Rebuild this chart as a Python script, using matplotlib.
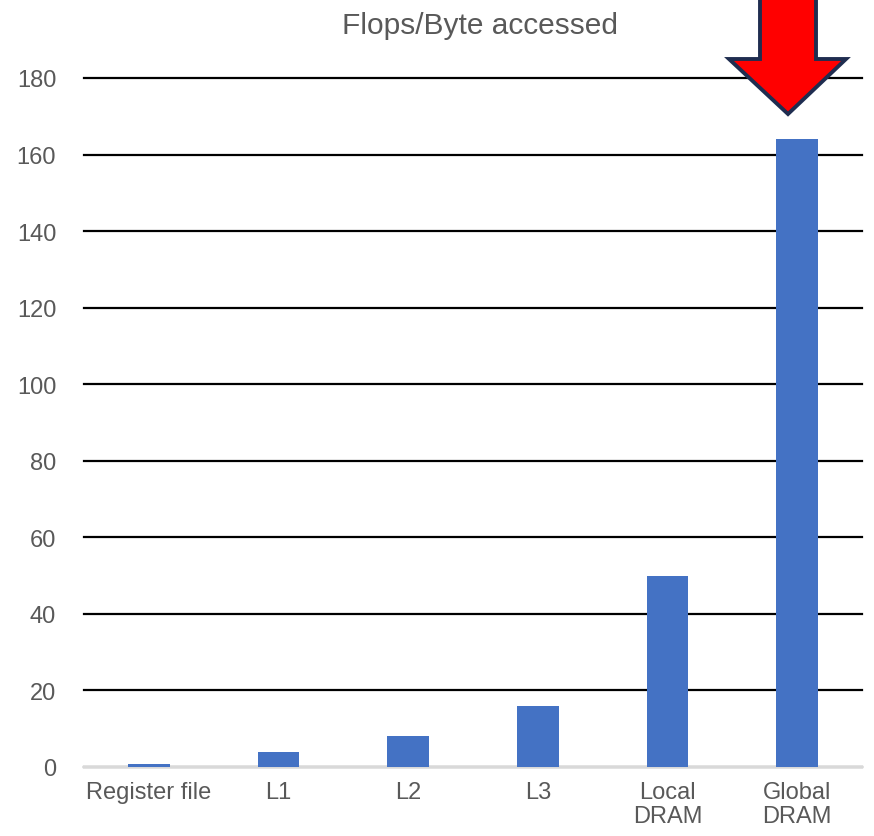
import matplotlib.pyplot as plt
from matplotlib.patches import Polygon

# Flops per byte accessed at each level of the memory hierarchy
levels = ['Register file', 'L1', 'L2', 'L3', 'Local\nDRAM', 'Global\nDRAM']
flops_per_byte = [0.8, 4, 8, 16, 50, 164]
y_ticks = [0, 20, 40, 60, 80, 100, 120, 140, 160, 180]

W, H = 874, 837
BAR_COLOR = '#4472C4'
TEXT_COLOR = '#595959'

plt.rcParams['font.family'] = ['Liberation Sans', 'DejaVu Sans']

fig = plt.figure(figsize=(W / 100, H / 100), dpi=100)
ax = fig.add_axes([84 / W, 1 - 768 / H, (862 - 84) / W, (768 - 79) / H])

x = range(len(levels))
ax.bar(x, flops_per_byte, width=0.32, color=BAR_COLOR, zorder=3)

ax.set_xlim(-0.5, len(levels) - 0.5)
ax.set_ylim(0, 180)
ax.set_yticks(y_ticks)
ax.set_xticks(list(x))
ax.set_xticklabels(levels)
ax.yaxis.grid(True, color='black', linewidth=1.6, zorder=0)
for gl in ax.get_ygridlines():
    gl.set_clip_on(False)
ax.set_axisbelow(True)

for side in ['top', 'right', 'left']:
    ax.spines[side].set_visible(False)
ax.spines['bottom'].set_color('#D9D9D9')
ax.spines['bottom'].set_linewidth(1.5)
ax.spines['bottom'].set_zorder(2)

ax.tick_params(axis='both', length=0, labelsize=17, colors=TEXT_COLOR)
ax.tick_params(axis='y', pad=20)
ax.tick_params(axis='x', pad=10)
for lab in ax.get_xticklabels():
    lab.set_linespacing(1.15)

fig.text(480 / W, 1 - 26 / H, 'Flops/Byte accessed', ha='center', va='center',
         fontsize=21.5, color=TEXT_COLOR)

# big red arrow pointing down at the Global DRAM bar (pixel coords, top-left origin)
arrow_px = [(760, -5), (816, -5), (816, 60), (846, 60), (788, 115),
            (729, 60), (760, 60)]
arrow_fig = [(px / W, 1 - py / H) for px, py in arrow_px]
fig.patches.append(Polygon(arrow_fig, closed=True, facecolor='#FF0000',
                           edgecolor='#1F2D50', linewidth=2.8,
                           joinstyle='miter', transform=fig.transFigure,
                           figure=fig, zorder=10))

fig.savefig('out.png', dpi=100, facecolor='white')
